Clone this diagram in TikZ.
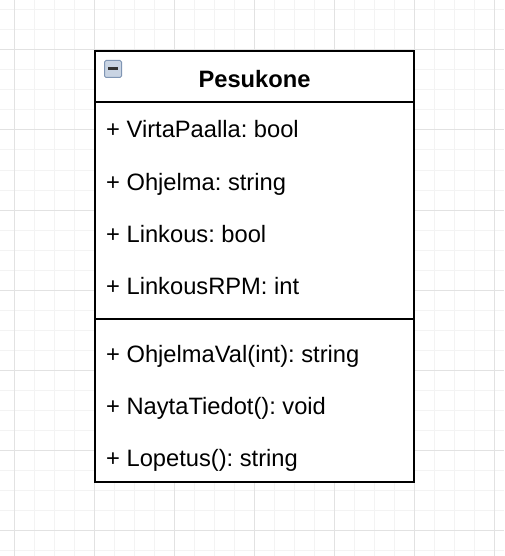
\documentclass[tikz,border=0pt]{standalone}
\usepackage{fontspec}
\setmainfont{Liberation Sans}
\frenchspacing
\usetikzlibrary{positioning}
\definecolor{C_GRID}{HTML}{F3F3F3}
\definecolor{C_MAJOR}{HTML}{E2E2E2}
\definecolor{C_ICON}{HTML}{C9D4E3}
\definecolor{C_ICOND}{HTML}{8096B4}
\tikzset{
  %% -- class member row --
  UML/member/.style={
    anchor=base west, inner sep=0pt,
    font=\fontsize{23.7}{28}\selectfont
  },
  %% -- class title --
  UML/title/.style={
    anchor=base, inner sep=0pt, font=\fontsize{23.7}{28}\selectfont\bfseries
  },
  %% -- class outline --
  UML/line/.style={draw=black, line width=2.4pt},
}

\begin{document}
\begin{tikzpicture}[x=1pt, y=-1pt]

%% Canvas and grid
\fill[white] (0,0) rectangle (504,556);
\useasboundingbox (0,0) rectangle (504,556);
\foreach \gx in {14,34,...,494} \draw[C_GRID, line width=1pt] (\gx,0) -- (\gx,556);
\foreach \gy in {10,30,...,550} \draw[C_GRID, line width=1pt] (0,\gy) -- (504,\gy);
\foreach \gx in {14,94,...,494} \draw[C_MAJOR, line width=1pt] (\gx,0) -- (\gx,556);
\foreach \gy in {50,130,...,530} \draw[C_MAJOR, line width=1pt] (0,\gy) -- (504,\gy);

%% Class box
\coordinate (boxNW) at (95,51);
\coordinate (boxSE) at (414,482);
\fill[white] (boxNW) rectangle (boxSE);
\draw[UML/line] (95,102) -- (414,102);
\draw[UML/line] (95,319) -- (414,319);
\draw[UML/line] (boxNW) rectangle (boxSE);

%% Collapse icon
\node[draw=C_ICOND, fill=C_ICON, rounded corners=1.5pt, line width=1pt,
      minimum size=17pt, inner sep=0pt] (collapse) at (113,69) {};
\draw[black!80, line width=3pt] ([xshift=-5pt]collapse.center) -- ([xshift=5pt]collapse.center);

%% Title
\node[UML/title] (title) at (254.5,88) {Pesukone};

%% Attributes (baselines 52pt apart)
\node[UML/member] (attrA) at (106,138) {+ VirtaPaalla: bool};
\node[UML/member, below=52pt of attrA.base west, anchor=base west] (attrB) {+ Ohjelma: string};
\node[UML/member, below=52pt of attrB.base west, anchor=base west] (attrC) {+ Linkous: bool};
\node[UML/member, below=52pt of attrC.base west, anchor=base west] (attrD) {+ LinkousRPM: int};

%% Methods
\node[UML/member] (methA) at (106,362) {+ OhjelmaVal(int): string};
\node[UML/member, below=52pt of methA.base west, anchor=base west] (methB) {+ NaytaTiedot(): void};
\node[UML/member, below=52pt of methB.base west, anchor=base west] (methC) {+ Lopetus(): string};

\end{tikzpicture}
\end{document}
